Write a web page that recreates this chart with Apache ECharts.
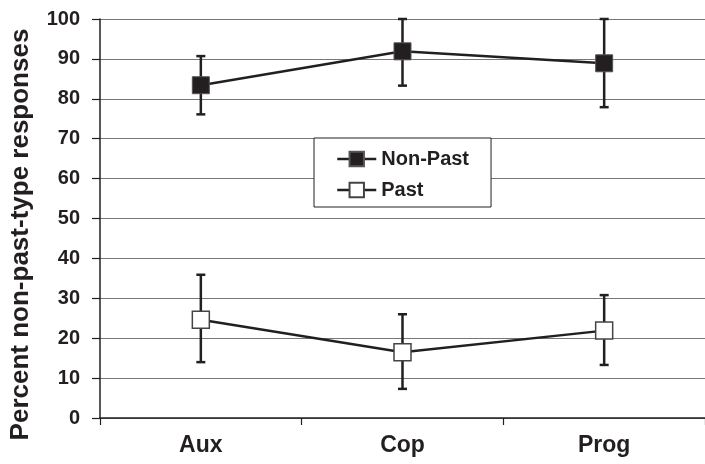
<!DOCTYPE html>
<html>
<head>
<meta charset="utf-8">
<script src="https://cdn.jsdelivr.net/npm/echarts@6/dist/echarts.min.js"></script>
<style>html,body{margin:0;padding:0;background:#fff}#c{width:705px;height:464px}</style>
</head>
<body>
<div id="c"></div>
<script>
const categories = ['Aux', 'Cop', 'Prog'];
const yTicks = [0, 10, 20, 30, 40, 50, 60, 70, 80, 90, 100];
const nonPastMean = [83.4, 91.9, 88.9];
const nonPastLow = [76.1, 83.3, 77.9];
const nonPastHigh = [90.7, 100, 100];
const pastMean = [24.6, 16.5, 21.9];
const pastLow = [14.0, 7.3, 13.3];
const pastHigh = [35.9, 26.0, 30.8];

const ink = '#231f20';
const font = 'Liberation Sans, Arial, sans-serif';

function errData(low, high) {
  return categories.map((c, i) => [i, low[i], high[i]]);
}
function errSeries(name, low, high) {
  return {
    type: 'custom',
    name: name + ' err',
    z: 1,
    clip: false,
    silent: true,
    data: errData(low, high),
    encode: { x: 0, y: [1, 2] },
    renderItem: function (params, api) {
      const x = api.value(0);
      const lo = api.coord([x, api.value(1)]);
      const hi = api.coord([x, api.value(2)]);
      const cap = 4.5;
      const st = { stroke: ink, lineWidth: 2.5 };
      return {
        type: 'group',
        children: [
          { type: 'line', shape: { x1: lo[0], y1: lo[1], x2: hi[0], y2: hi[1] }, style: st },
          { type: 'line', shape: { x1: lo[0] - cap, y1: lo[1], x2: lo[0] + cap, y2: lo[1] }, style: st },
          { type: 'line', shape: { x1: hi[0] - cap, y1: hi[1], x2: hi[0] + cap, y2: hi[1] }, style: st }
        ]
      };
    }
  };
}

const chart = echarts.init(document.getElementById('c'), null, { renderer: 'canvas' });
chart.setOption({
  animation: false,
  backgroundColor: '#fff',
  textStyle: { fontFamily: font, color: ink },
  grid: { left: 99, right: -5, top: 19, bottom: 46, containLabel: false },
  legend: {
    orient: 'vertical',
    left: 314,
    top: 138,
    width: 180,
    padding: [11, 22, 7, 22],
    itemGap: 11,
    itemWidth: 39,
    itemHeight: 18,
    backgroundColor: '#fff',
    borderColor: ink,
    borderWidth: 1,
    borderRadius: 0,
    lineStyle: { width: 2.5, color: ink },
    textStyle: { fontFamily: font, fontWeight: 'bold', fontSize: 20, color: ink },
    data: ['Non-Past', 'Past']
  },
  xAxis: {
    type: 'category',
    data: categories,
    boundaryGap: true,
    axisLine: { show: true, lineStyle: { color: ink, width: 1.5 } },
    axisTick: { show: true, length: 7, lineStyle: { color: ink, width: 1.2 } },
    axisLabel: { fontFamily: font, fontWeight: 'bold', fontSize: 23, color: ink, margin: 16 },
    splitLine: { show: false }
  },
  yAxis: {
    type: 'value',
    min: 0,
    max: 100,
    interval: 10,
    name: 'Percent non-past-type responses',
    nameLocation: 'middle',
    nameGap: 66,
    nameTextStyle: { fontFamily: font, fontWeight: 'bold', fontSize: 26, color: ink, padding: [0, 32, 0, 0] },
    axisLine: { show: true, lineStyle: { color: ink, width: 1.5 } },
    axisTick: { show: true, length: 8, lineStyle: { color: ink, width: 1.2 } },
    axisLabel: {
      fontFamily: font, fontWeight: 'bold', fontSize: 20, color: ink, margin: 20,
      formatter: v => yTicks.indexOf(v) >= 0 ? String(v) : ''
    },
    splitLine: { show: true, lineStyle: { color: '#777', width: 1.2 } }
  },
  series: [
    errSeries('Non-Past', nonPastLow, nonPastHigh),
    errSeries('Past', pastLow, pastHigh),
    {
      type: 'line',
      name: 'Non-Past',
      z: 3,
      data: nonPastMean,
      symbol: 'rect',
      symbolSize: 17,
      lineStyle: { color: ink, width: 2.5 },
      itemStyle: { color: ink, borderColor: '#555', borderWidth: 1 }
    },
    {
      type: 'line',
      name: 'Past',
      z: 3,
      data: pastMean,
      symbol: 'rect',
      symbolSize: 17,
      lineStyle: { color: ink, width: 2.5 },
      itemStyle: { color: '#fff', borderColor: '#444', borderWidth: 1.5 }
    }
  ]
});
</script>
</body>
</html>
